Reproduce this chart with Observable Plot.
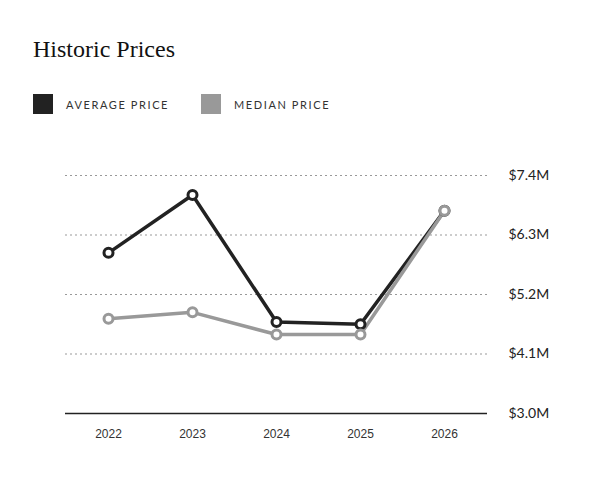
<!DOCTYPE html>
<html>
<head>
<meta charset="utf-8">
<script src="https://cdn.jsdelivr.net/npm/d3@7"></script>
<script src="https://cdn.jsdelivr.net/npm/@observablehq/plot@0.6"></script>
<style>
  html, body { margin: 0; padding: 0; background: #fff; width: 600px; height: 491px; overflow: hidden; position: relative; }
  #title { position: absolute; left: 33px; top: 36px; font-family: "Liberation Serif", "DejaVu Serif", serif; font-size: 24px; color: #111; }
  .leg { position: absolute; top: 94px; display: flex; align-items: center; font-family: Lato, "Open Sans", sans-serif; font-size: 11px; letter-spacing: 1.6px; color: #333; }
  .sw { width: 20px; height: 20px; margin-right: 13px; }
  #chart { position: absolute; left: 0; top: 140px; }
</style>
</head>
<body>
<div id="title">Historic Prices</div>
<div id="legend"></div>
<div id="chart"></div>
<script>
const years = ["2022", "2023", "2024", "2025", "2026"];
const averagePrice = [5.97, 7.04, 4.69, 4.65, 6.75];
const medianPrice = [4.75, 4.87, 4.46, 4.46, 6.75];
const yTicks = [3.0, 4.1, 5.2, 6.3, 7.4];
const seriesNames = ["AVERAGE PRICE", "MEDIAN PRICE"];
const seriesColors = ["#222222", "#999999"];

const legendPos = [33, 201];
const legend = document.getElementById("legend");
seriesNames.forEach((n, i) => {
  const d = document.createElement("div");
  d.className = "leg";
  d.style.left = legendPos[i] + "px";
  d.innerHTML = `<div class="sw" style="background:${seriesColors[i]}"></div><span>${n}</span>`;
  legend.appendChild(d);
});

const avg = years.map((y, i) => ({year: y, value: averagePrice[i]}));
const med = years.map((y, i) => ({year: y, value: medianPrice[i]}));

const chart = Plot.plot({
  width: 600,
  height: 351,
  marginLeft: 65,
  marginRight: 113,
  marginTop: 35,
  marginBottom: 78,
  style: {fontFamily: "Liberation Sans, Arial, sans-serif", background: "transparent"},
  x: {type: "point", domain: years, padding: 0.5, label: null},
  y: {domain: [3.0, 7.4], label: null},
  marks: [
    Plot.ruleY(yTicks.slice(1), {stroke: "#999", strokeDasharray: "2,3", strokeWidth: 1}),
    Plot.ruleY([3.0], {stroke: "#222", strokeWidth: 1.5}),
    Plot.axisX({tickSize: 0, tickPadding: 16, fontSize: 12, fill: "#333"}),
    Plot.axisY({anchor: "right", ticks: yTicks, tickSize: 0, tickPadding: 21, fontSize: 14, fill: "#222", fontFamily: "Lato, sans-serif", tickFormat: d => "$" + d.toFixed(1) + "M"}),
    Plot.line(avg, {x: "year", y: "value", stroke: seriesColors[0], strokeWidth: 3.5}),
    Plot.line(med, {x: "year", y: "value", stroke: seriesColors[1], strokeWidth: 3.5}),
    Plot.dot(avg, {x: "year", y: "value", r: 4.5, fill: "#fff", stroke: seriesColors[0], strokeWidth: 3}),
    Plot.dot(med, {x: "year", y: "value", r: 4.5, fill: "#fff", stroke: seriesColors[1], strokeWidth: 3})
  ]
});
document.getElementById("chart").appendChild(chart);
</script>
</body>
</html>
